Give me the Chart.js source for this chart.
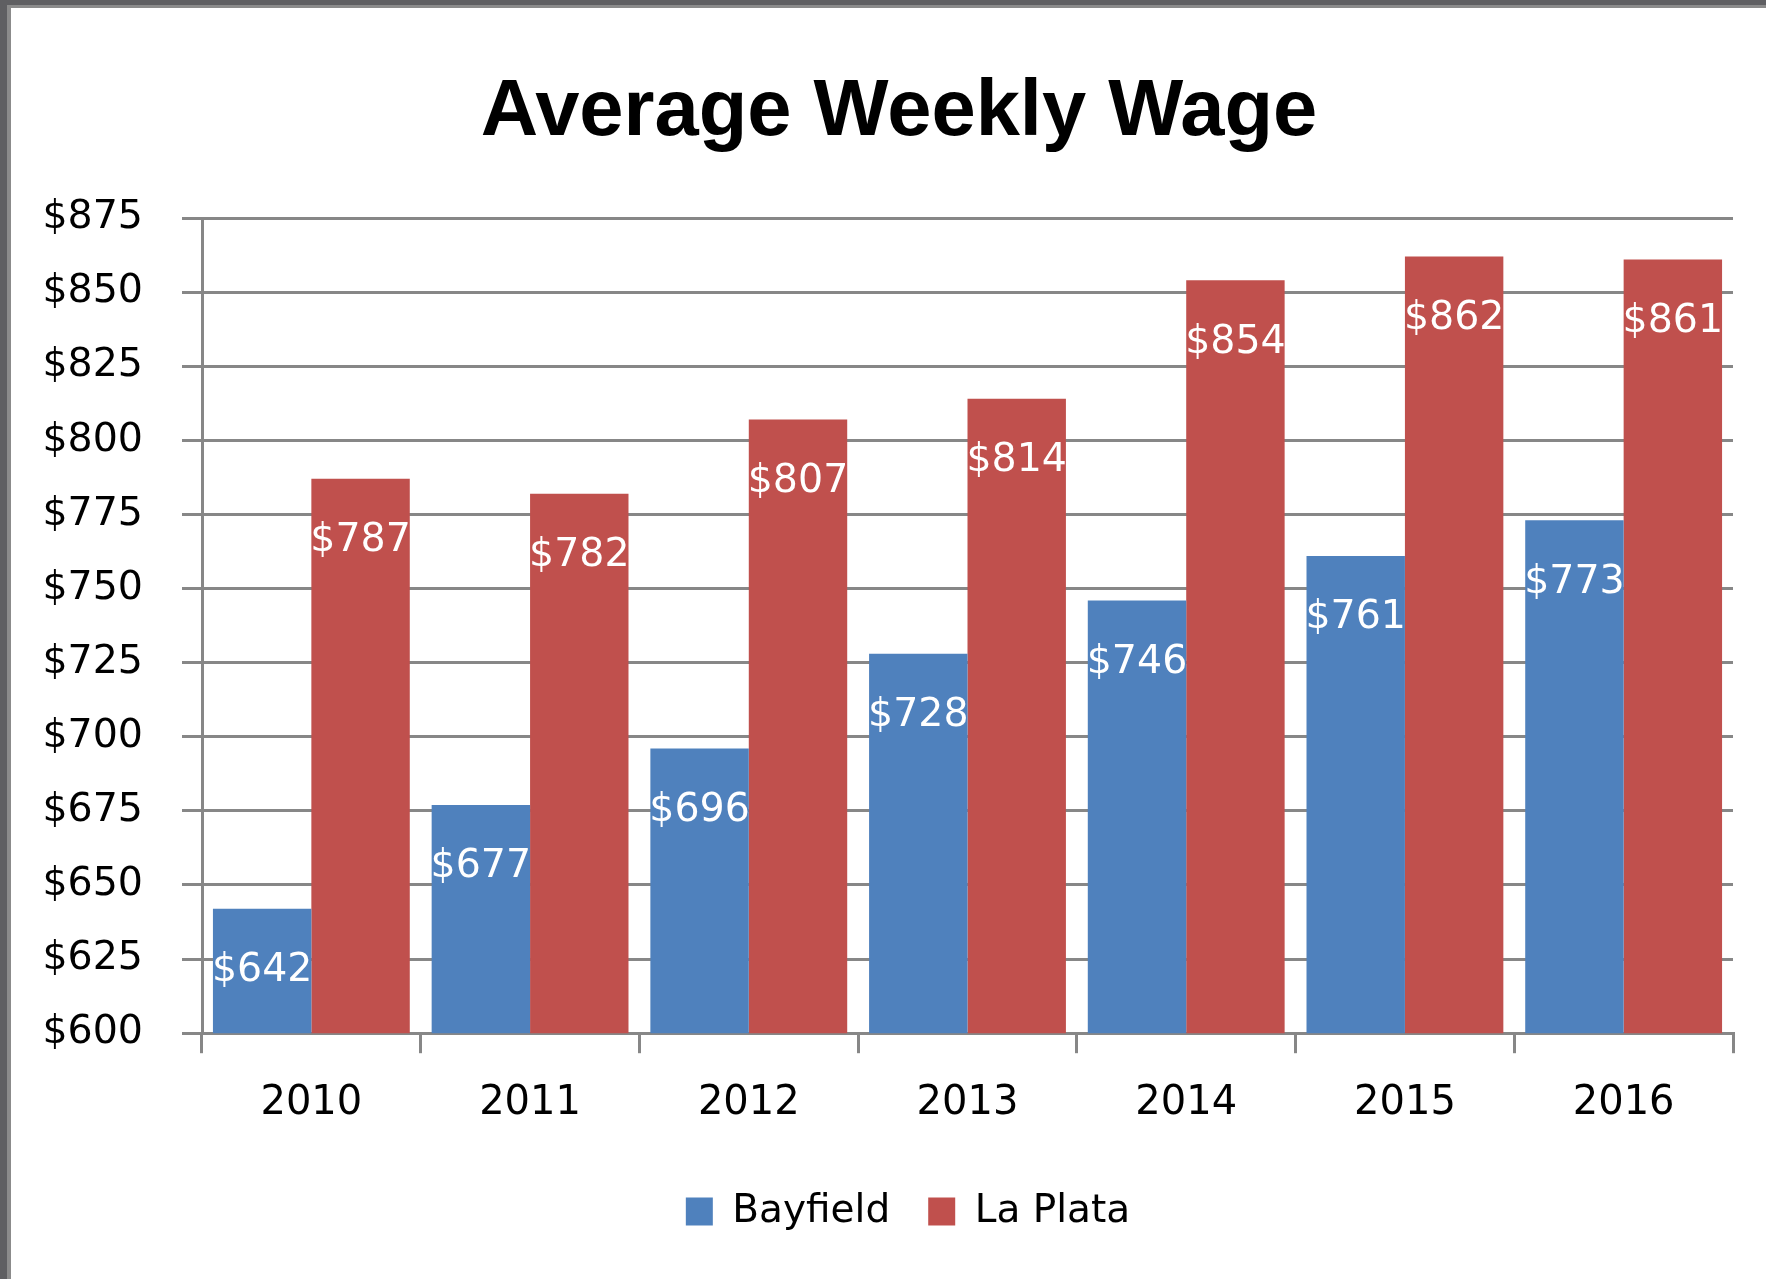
<!DOCTYPE html>
<html>
<head>
<meta charset="utf-8">
<title>Average Weekly Wage</title>
<script src="https://cdn.jsdelivr.net/npm/chart.js@4.4.1/dist/chart.umd.min.js"></script>
<style>
  html, body { margin: 0; padding: 0; background: #fff; }
  #frame { position: absolute; left: 0; top: 0; width: 1766px; height: 1279px; background: #5f5f62; }
  #edge { position: absolute; left: 7px; top: 5px; right: 0; bottom: 0; background: #8b8b8b; }
  #wrap { position: absolute; left: 11px; top: 8px; width: 1755px; height: 1271px; background: #fff; }
</style>
</head>
<body>
<div id="frame"><div id="edge"></div><div id="wrap"><canvas id="wages" width="1755" height="1271"></canvas></div></div>
<script>
var years = ["2010", "2011", "2012", "2013", "2014", "2015", "2016"];
var bayfield = [642, 677, 696, 728, 746, 761, 773];
var laPlata = [787, 782, 807, 814, 854, 862, 861];
var yMin = 600, yMax = 875, yStep = 25;

var gridGray = "#878787";

// white value labels sitting inside the top of each bar
var barLabels = {
  id: "barLabels",
  afterDatasetsDraw: function (chart) {
    var ctx = chart.ctx;
    ctx.save();
    ctx.font = "39.5px 'DejaVu Sans'";
    ctx.fillStyle = "#fff";
    ctx.textAlign = "center";
    ctx.textBaseline = "middle";
    chart.data.datasets.forEach(function (ds, i) {
      chart.getDatasetMeta(i).data.forEach(function (bar, j) {
        ctx.fillText("$" + ds.data[j], bar.x, bar.y + 62);
      });
    });
    ctx.restore();
  }
};

// nudge title and legend sideways a little (the original isn't centred exactly)
function nudge(box, dx) {
  if (!box || box._nudged) return;
  var draw = box.draw.bind(box);
  box.draw = function (area) {
    box.ctx.save();
    box.ctx.translate(dx, 0);
    draw(area);
    box.ctx.restore();
  };
  box._nudged = true;
}
var shiftBoxes = {
  id: "shiftBoxes",
  afterLayout: function (chart) {
    nudge(chart.titleBlock, 11);
    nudge(chart.legend, 20);
  }
};

var ctx = document.getElementById("wages");
var chart = new Chart(ctx, {
  type: "bar",
  data: {
    labels: years,
    datasets: [
      { label: "Bayfield", data: bayfield, backgroundColor: "#4f81bd" },
      { label: "La Plata", data: laPlata, backgroundColor: "#c0504d" }
    ]
  },
  options: {
    responsive: false,
    animation: false,
    datasets: { bar: { barPercentage: 1, categoryPercentage: 0.9 } },
    layout: { padding: { left: 32, right: 33, top: 0, bottom: 38 } },
    plugins: {
      title: {
        display: true,
        text: "Average Weekly Wage",
        color: "#000",
        font: { family: "'Liberation Sans'", size: 79.5, weight: "bold" },
        padding: { top: 57, bottom: 57.6 }
      },
      legend: {
        position: "bottom",
        labels: {
          color: "#000",
          font: { family: "'DejaVu Sans'", size: 39 },
          boxWidth: 27,
          boxHeight: 28,
          padding: 38
        }
      },
      tooltip: { enabled: false }
    },
    scales: {
      x: {
        grid: { drawOnChartArea: false, drawTicks: true, tickLength: 20, color: gridGray, lineWidth: 3 },
        border: { display: true, color: gridGray, width: 3 },
        ticks: { color: "#000", padding: 5, font: { family: "'DejaVu Sans'", size: 40, lineHeight: 2.27 } }
      },
      y: {
        min: yMin,
        max: yMax,
        afterFit: function (scale) { scale.width = 159; },
        grid: { color: gridGray, lineWidth: 3, tickLength: 20 },
        border: { display: true, color: gridGray, width: 3 },
        ticks: {
          stepSize: yStep,
          color: "#000",
          padding: 39,
          font: { family: "'DejaVu Sans'", size: 39.5 },
          callback: function (v) { return "$" + v; }
        }
      }
    }
  },
  plugins: [barLabels, shiftBoxes]
});
</script>
</body>
</html>
